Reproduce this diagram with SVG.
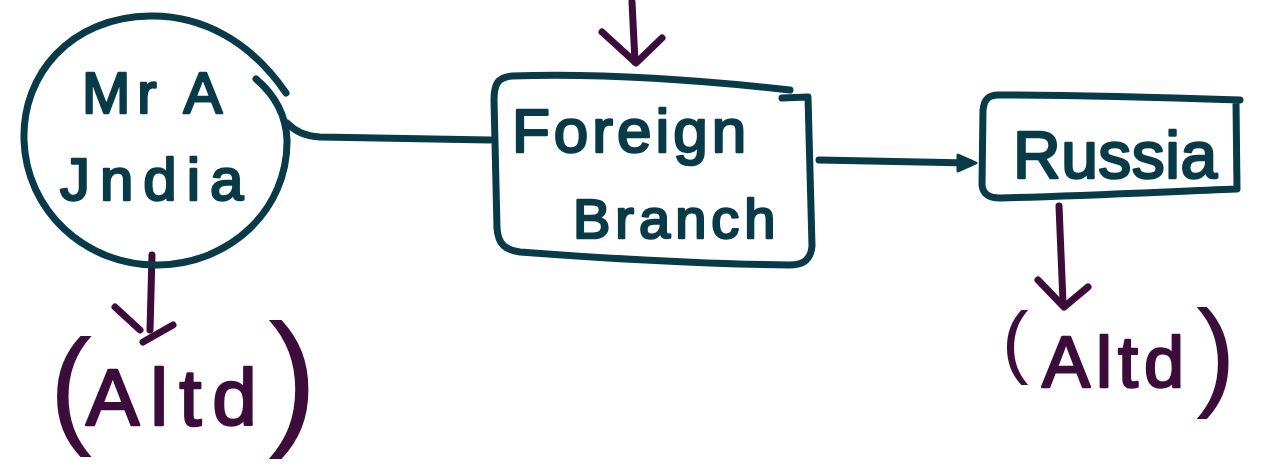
<svg xmlns="http://www.w3.org/2000/svg" width="1264" height="472" viewBox="0 0 1264 472">
<style>
.t{stroke:#093a48;stroke-width:7;fill:none;stroke-linecap:round;stroke-linejoin:round}
.p{stroke:#3c0c3a;stroke-width:7;fill:none;stroke-linecap:round;stroke-linejoin:round}
.tt{font-family:"Liberation Sans",Arial,sans-serif;fill:#093a48;stroke:#093a48;stroke-width:2.5;stroke-linejoin:round}
.pt{font-family:"Liberation Sans",Arial,sans-serif;fill:#3c0c3a;stroke:#3c0c3a;stroke-width:2.5;stroke-linejoin:round}
.par{stroke-width:0}
</style>
<rect width="1264" height="472" fill="#ffffff"/>
<g id="connectors">
<path class="t" d="M287 123 C296 132 305 136 320 137 L490 140"/>
<path class="t" d="M819 160 C870 161 920 162 970 163"/>
<path d="M958 155 L976 163 L958 171 Z" fill="#093a48" stroke="#093a48" stroke-width="3" stroke-linejoin="round"/>
<path class="p" d="M632 2 L635 62"/>
<path class="p" d="M602 32 L636 63 L662 38"/>
<path class="p" d="M152 255 L150 330"/>
<path class="p" d="M115 307 L140 330"/>
<path class="p" d="M173 325 L143 342"/>
<path class="p" d="M1059 206 L1063 302"/>
<path class="p" d="M1038 280 L1064 307 L1088 287"/>
</g>
<g id="mr-a-india">
<path class="t" d="M286 93 C250 40 200 15 150 16 C70 17 22 75 24 140 C26 210 85 266 158 265 C230 264 288 210 287 140 C286 115 275 95 256 79"/>
<text class="tt" font-size="58" letter-spacing="7"><tspan x="82" y="113">Mr A</tspan></text>
<text class="tt" font-size="60" letter-spacing="10"><tspan x="60" y="200">Jndia</tspan></text>
</g>
<g id="foreign-branch">
<path class="t" d="M790 90 C700 80 600 73 512 76 C498 77 494 84 494 100 L497 228 C498 244 505 250 520 252 C600 258 700 264 790 265 C805 265 811 258 812 246 L808 97 L782 98"/>
<text class="tt" font-size="62" letter-spacing="4"><tspan x="512" y="152">Foreign</tspan></text>
<text class="tt" font-size="56" letter-spacing="5"><tspan x="573" y="238">Branch</tspan></text>
</g>
<g id="russia">
<path class="t" d="M1240 100 C1150 97 1070 95 998 95 C988 95 984 100 983 110 L982 185 C983 195 990 198 1000 198 C1080 196 1160 192 1237 189 L1236 102"/>
<text class="tt" font-size="66" letter-spacing="0.5"><tspan x="1013" y="178">Russia</tspan></text>
</g>
<g id="altd-left">
<text class="pt"><tspan class="par" x="49" y="430" font-size="130">(</tspan><tspan x="86" y="425" font-size="80" letter-spacing="11">Altd</tspan><tspan class="par" x="268" y="428" font-size="149">)</tspan></text>
</g>
<g id="altd-right">
<text class="pt"><tspan class="par" x="1002" y="368" font-size="80">(</tspan><tspan x="1042" y="387" font-size="72" letter-spacing="6">Altd</tspan><tspan class="par" x="1196" y="394" font-size="120">)</tspan></text>
</g>
</svg>
